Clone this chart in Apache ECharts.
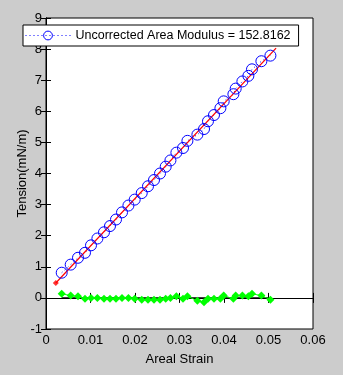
<!DOCTYPE html>
<html><head><meta charset="utf-8">
<script src="https://cdn.jsdelivr.net/npm/echarts@6/dist/echarts.min.js"></script>
<style>html,body{margin:0;padding:0;background:#cccccc;}#c{width:343px;height:375px;}</style>
</head><body><div id="c"></div>
<script>
const strain = [0.00353,0.00555,0.00719,0.00876,0.01011,0.01155,0.01303,0.01438,0.01573,0.01708,0.01852,0.01993,0.02151,0.02292,0.02427,0.02562,0.02690,0.02796,0.02930,0.03079,0.03178,0.03402,0.03551,0.03640,0.03775,0.03919,0.03993,0.04211,0.04263,0.04413,0.04548,0.04629,0.04840,0.05043];
const tension = [0.81,1.07,1.29,1.45,1.69,1.91,2.11,2.31,2.52,2.75,2.97,3.16,3.37,3.59,3.79,4.00,4.22,4.42,4.67,4.82,5.05,5.25,5.43,5.68,5.88,6.10,6.32,6.55,6.73,6.96,7.14,7.35,7.61,7.79];
const residual = [0.13,0.075,0.05,-0.03,0,0,-0.03,-0.03,-0.03,0,0,-0.03,-0.06,-0.06,-0.06,-0.06,-0.03,0,0.05,-0.03,0.05,-0.09,-0.14,-0.03,-0.03,-0.03,0.075,-0.03,0.075,0.075,0.05,0.13,0.075,-0.06];
const fitX = [0.0022, 0.0517];
const fitY = [0.48, 8.03];
const zeroX = [0.00353, 0.05043];
const zeroY = [0, 0];
const xTicks = [0,0.01,0.02,0.03,0.04,0.05,0.06];
const yTicks = [-1,0,1,2,3,4,5,6,7,8,9];
const legendName = 'Uncorrected Area Modulus = 152.8162';

const zip = (a,b)=>a.map((v,i)=>[v,b[i]]);
const font = 'Liberation Sans, Arial, sans-serif';
const chart = echarts.init(document.getElementById('c'), null, {renderer:'canvas'});
const axisCommon = {
  axisLine:{show:true,lineStyle:{color:'#000',width:1}},
  axisTick:{show:true,inside:true,length:5,lineStyle:{color:'#000'}},
  splitLine:{show:false}
};
chart.setOption({
  backgroundColor:'#cccccc',
  animation:false,
  grid:{left:46,right:30,top:18,bottom:46,show:true,backgroundColor:'#ffffff',borderColor:'#000',borderWidth:1},
  legend:{
    data:[legendName],
    left:23, top:25,
    padding:[4,8,4,2],
    itemWidth:45, itemHeight:11, itemGap:0,
    backgroundColor:'#ffffff', borderColor:'#000', borderWidth:1, borderRadius:0,
    lineStyle:{width:1,type:[1,3],color:'#0000ff'},
    itemStyle:{borderWidth:1},
    textStyle:{fontFamily:font,fontSize:12.5,color:'#000'}
  },
  xAxis:[
    Object.assign({type:'value',min:xTicks[0],max:xTicks[xTicks.length-1],interval:0.01,position:'bottom',
      name:'Areal Strain',nameLocation:'middle',nameGap:24,
      nameTextStyle:{fontFamily:font,fontSize:13,color:'#000'},
      axisLabel:{fontFamily:font,fontSize:13,color:'#000',margin:5,formatter:v=>String(+v.toFixed(2))}},axisCommon),
    Object.assign({type:'value',min:0,max:0.06,interval:0.01,position:'top',axisLabel:{show:false}},axisCommon)
  ],
  yAxis:[
    Object.assign({type:'value',min:yTicks[0],max:yTicks[yTicks.length-1],interval:1,position:'left',
      name:'Tension(mN/m)',nameLocation:'middle',nameGap:17,nameMoveOverlap:false,
      nameTextStyle:{fontFamily:font,fontSize:13,color:'#000'},
      axisLabel:{fontFamily:font,fontSize:13,color:'#000',margin:4}},axisCommon),
    Object.assign({type:'value',min:-1,max:9,interval:1,position:'right',axisLabel:{show:false}},axisCommon)
  ],
  series:[
    {name:legendName,type:'line',data:zip(strain,tension),symbol:'circle',symbolSize:11,
      lineStyle:{color:'#0000ff',width:1,type:[1,3]},
      itemStyle:{color:'rgba(0,0,0,0)',borderColor:'#0000ff',borderWidth:1}},
    {name:'fit',type:'line',data:zip(fitX,fitY),symbol:'none',
      lineStyle:{color:'#ff0000',width:1.2,type:'solid'}},
    {name:'start',type:'scatter',data:[[fitX[0],fitY[0]]],symbol:'diamond',symbolSize:6,itemStyle:{color:'#ff0000'}},
    {name:'zero',type:'line',data:zip(zeroX,zeroY),symbol:'none',lineStyle:{color:'#000',width:1.5}},
    {name:'residual',type:'line',data:zip(strain,residual),symbol:'diamond',symbolSize:8,
      lineStyle:{color:'#00ff00',width:1},itemStyle:{color:'#00ff00'}}
  ]
});
</script></body></html>
